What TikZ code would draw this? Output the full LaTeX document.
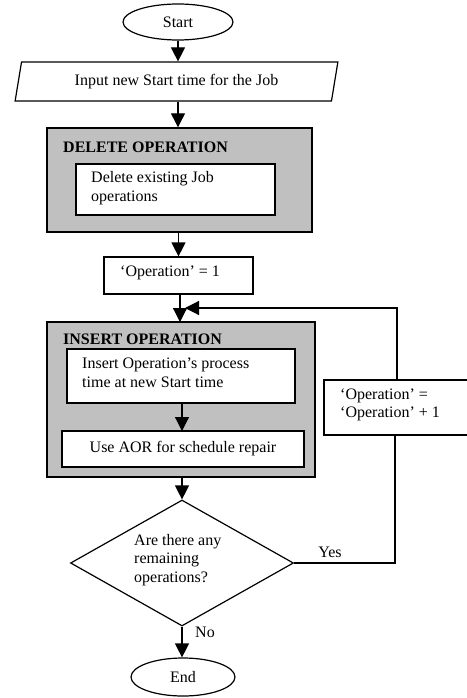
\documentclass[tikz,border=0pt]{standalone}
\usepackage{fontspec}
\setmainfont{Liberation Serif}
\usetikzlibrary{shapes.geometric,arrows.meta}
\definecolor{boxgray}{RGB}{192,192,192}
\tikzset{
  ln/.style={line width=1.2pt},
  arr/.style={ln,-{Triangle[length=14pt,width=14pt]}},
  bx/.style={draw,ln,fill=white,inner sep=0pt},
  outer/.style={draw,line width=1.4pt,fill=boxgray,inner sep=0pt},
  term/.style={draw,ln,ellipse,inner sep=0pt},
  lbl/.style={inner sep=0pt},
}
\begin{document}
\begin{tikzpicture}[x=1pt,y=-1pt,font=\fontsize{16}{18.5}\selectfont]
\useasboundingbox (0,0) rectangle (466,698);
\fill[white] (0,0) rectangle (466,698);

% Start
\node[term,minimum width=110pt,minimum height=36pt] (start) at (178,22) {Start};

% Input
\node[draw,ln,trapezium,trapezium left angle=74,trapezium right angle=106,
      trapezium stretches=true,minimum width=323pt,minimum height=39pt,inner sep=0pt]
      (input) at (176.5,81.5) {Input new Start time for the Job};

% Delete operation
\node[outer,minimum width=265pt,minimum height=104pt] (del) at (179.5,180) {};
\node[lbl,anchor=west,font=\fontsize{16}{18.5}\selectfont\bfseries] (deltitle) at (63,147) {DELETE OPERATION};
\node[bx,minimum width=199pt,minimum height=51pt] (delbox) at (175.5,189.5) {};
\node[lbl,anchor=west,align=left] (deltext) at (91,188) {Delete existing Job\\operations};

% Operation = 1
\node[bx,minimum width=149pt,minimum height=37pt] (op1) at (178.5,275.5) {};
\node[lbl,anchor=west] (op1text) at (120,273) {‘Operation’ = 1};

% Insert operation
\node[outer,minimum width=268pt,minimum height=155pt] (ins) at (181,399.5) {};
\node[lbl,anchor=west,font=\fontsize{16}{18.5}\selectfont\bfseries] (institle) at (63,339) {INSERT OPERATION};
\node[bx,minimum width=228pt,minimum height=54pt] (b1) at (181,376) {};
\node[lbl,anchor=west,align=left] (b1text) at (82,373) {Insert Operation’s process\\time at new Start time};
\node[bx,minimum width=242pt,minimum height=36pt] (b2) at (183,449) {Use AOR for schedule repair};

% Decision
\node[draw,ln,diamond,minimum width=223pt,minimum height=126pt,inner sep=0pt] (dec) at (182,563) {};
\node[lbl,anchor=west,align=left] (dectext) at (134,560) {Are there any\\remaining\\operations?};

% Operation + 1
\node[bx,minimum width=156pt,minimum height=55pt] (op2) at (402,407.5) {};
\node[lbl,anchor=west,align=left] (op2text) at (340,405) {‘Operation’ =\\‘Operation’ + 1};

% End
\node[term,minimum width=104pt,minimum height=38pt] (end) at (183,677) {End};

% Connectors
\draw[arr] (start.south) -- (start.south |- input.north);
\draw[arr] (input.south -| start.south) -- (del.north -| start.south);
\draw[arr] (del.south -| op1.north) -- (op1.north);
\draw[arr] (op1.south -| 180,0) -- (180,322);
\draw[arr] (b1.south -| 182,0) -- (182,431);
\draw[arr] (ins.south -| dec.north) -- (dec.north);
\draw[arr] (dec.south) -- (dec.south |- end.north);

\coordinate (yesc) at (395,563);
\coordinate (loopc) at (397,308);
\coordinate (merge) at (185,308);
\draw[ln] (dec.east) -- (yesc) -- (yesc |- op2.south);
\draw[arr] (loopc |- op2.north) -- (loopc) -- (merge);

\node[lbl] (yes) at (330,552) {Yes};
\node[lbl] (no) at (205,632) {No};
\end{tikzpicture}
\end{document}
